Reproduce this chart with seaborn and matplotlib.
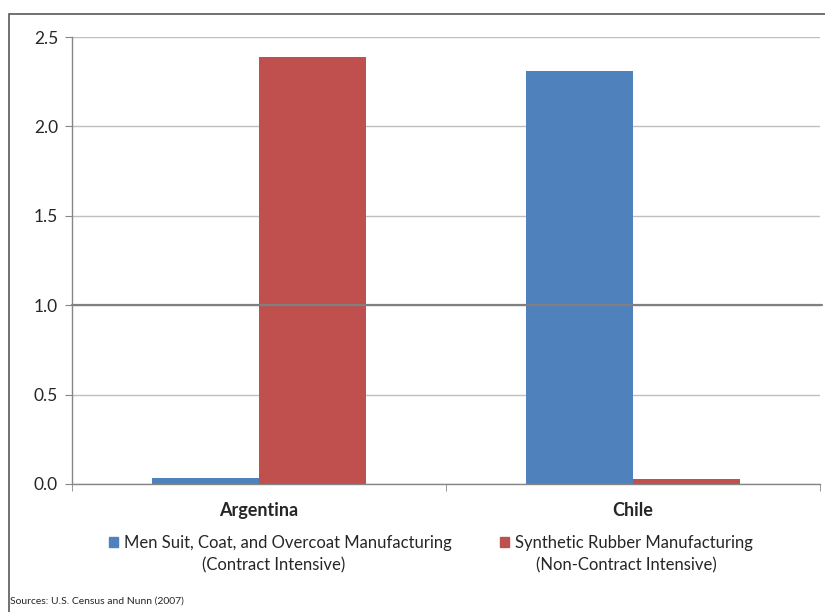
import pandas as pd
import seaborn as sns
import matplotlib.pyplot as plt
from matplotlib.patches import Rectangle, Patch

countries = ['Argentina', 'Chile']
industries = ['Men Suit, Coat, and Overcoat Manufacturing',
              'Synthetic Rubber Manufacturing']
subtitles = ['(Contract Intensive)', '(Non-Contract Intensive)']
suit_vals = [0.035, 2.31]
rubber_vals = [2.39, 0.03]
yticks = [0.0, 0.5, 1.0, 1.5, 2.0, 2.5]
colors = ['#4F81BD', '#C0504D']

df = pd.DataFrame({
    'Country': countries * 2,
    'Industry': [industries[0]] * 2 + [industries[1]] * 2,
    'Value': suit_vals + rubber_vals,
})

sns.set_style('white')
plt.rcParams['font.family'] = ['Lato', 'DejaVu Sans']

fig = plt.figure(figsize=(8.25, 6.12), dpi=100)
ax = fig.add_axes([72 / 825, 1 - 484 / 612, 748 / 825, 447 / 612])

sns.barplot(data=df, x='Country', y='Value', hue='Industry',
            palette=colors, width=0.57, saturation=1, ax=ax,
            legend=False, linewidth=0)

ax.set_ylim(0, 2.5)
ax.set_xlim(-0.5, 1.5)
ax.set_yticks(yticks)
ax.set_yticklabels([f'{t:.1f}' for t in yticks], fontsize=12.5)
ax.yaxis.grid(True, color='#BFBFBF', linewidth=1)
ax.set_axisbelow(True)
ax.axhline(1.0, color='#808080', linewidth=1.6, zorder=5, xmax=1.003,
           clip_on=False)

ax.set_xlabel('')
ax.set_ylabel('')
ax.set_xticks([0, 1])
ax.set_xticklabels(countries, fontsize=13, fontweight='bold')
ax.tick_params(axis='x', length=0, pad=13)
ax.tick_params(axis='y', length=5, color='#868686', direction='out',
               left=True, pad=5)
# category separator ticks
ax.set_xticks([-0.5, 0.5, 1.5], minor=True)
ax.tick_params(axis='x', which='minor', length=5, color='#868686',
               direction='out', bottom=True)

for side in ['top', 'right']:
    ax.spines[side].set_visible(False)
for side in ['left', 'bottom']:
    ax.spines[side].set_color('#868686')
    ax.spines[side].set_linewidth(1)

handles = [Patch(color=c) for c in colors]
leg = fig.legend(handles, industries, loc='center',
                 bbox_to_anchor=(431 / 825, 1 - 543 / 612), ncol=2,
                 frameon=False, fontsize=12, handlelength=0.55,
                 handleheight=0.55, handletextpad=0.35, columnspacing=2.9)

fig.text(274 / 825, 1 - 565 / 612, subtitles[0], ha='center', va='center',
         fontsize=12)
fig.text(626 / 825, 1 - 565 / 612, subtitles[1], ha='center', va='center',
         fontsize=12)

fig.text(10 / 825, 1 - 601 / 612, 'Sources: U.S. Census and Nunn (2007)',
         ha='left', va='center', fontsize=7.5)

# outer frame (top and left edges visible)
fig.patches.append(Rectangle((9 / 825, -0.1), 1.2, 1 - 14 / 612 + 0.1,
                             transform=fig.transFigure, fill=False,
                             edgecolor='#595959', linewidth=1.2))

fig.savefig('out.png', dpi=100)
